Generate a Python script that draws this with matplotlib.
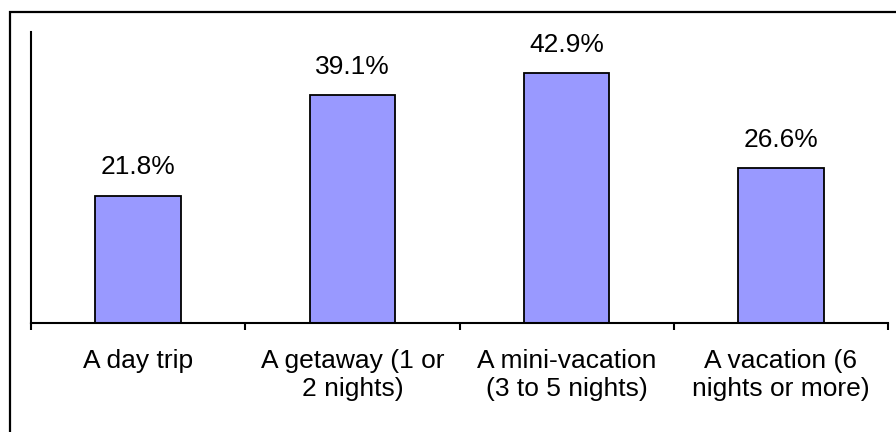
import matplotlib.pyplot as plt
import numpy as np
from matplotlib.patches import Rectangle
from matplotlib.ticker import FixedLocator

plt.rcParams["font.family"] = ["Liberation Sans", "DejaVu Sans"]

CATEGORIES = [
    "A day trip",
    "A getaway (1 or\n2 nights)",
    "A mini-vacation\n(3 to 5 nights)",
    "A vacation (6\nnights or more)",
]
SHARES = [21.8, 39.1, 42.9, 26.6]
VALUE_LABELS = ["21.8%", "39.1%", "42.9%", "26.6%"]

BAR_COLOR = "#9999FF"


def main() -> None:
    fig = plt.figure(figsize=[8.96, 4.32], dpi=100)

    # chart area border (left and top edges, rest runs off the canvas)
    frame = Rectangle((9.5 / 896, -0.1), 1.2, 1.1 - 11.5 / 432,
                      transform=fig.transFigure, fill=False,
                      edgecolor="black", linewidth=1.6)
    fig.patches.append(frame)

    axes = fig.add_axes([31 / 896, 109 / 432, 857 / 896, 291 / 432])
    draw_bars(axes)

    fig.savefig("out.png", dpi=100)


def draw_bars(axes) -> None:
    x = np.arange(len(CATEGORIES))
    bars = axes.bar(x, SHARES, width=0.4, color=BAR_COLOR,
                    edgecolor="black", linewidth=1.3, zorder=2)

    for bar, text in zip(bars, VALUE_LABELS):
        axes.annotate(text, (bar.get_x() + bar.get_width() / 2, bar.get_height()),
                      xytext=(0, 12), textcoords="offset points",
                      ha="center", va="bottom", fontsize=19)

    axes.set_xlim(-0.5, len(CATEGORIES) - 0.5)
    axes.set_ylim(0, 50)

    axes.set_xticks(x)
    axes.set_xticklabels(CATEGORIES, fontsize=19, linespacing=1.2)
    axes.xaxis.set_minor_locator(FixedLocator(np.arange(len(CATEGORIES) + 1) - 0.5))
    axes.tick_params(axis="x", which="major", length=0, pad=19)
    axes.tick_params(axis="x", which="minor", length=5, width=1.5, direction="out")
    axes.set_yticks([])

    for side in ("top", "right"):
        axes.spines[side].set_visible(False)
    for side in ("left", "bottom"):
        axes.spines[side].set_linewidth(1.5)


if __name__ == '__main__':
    main()
